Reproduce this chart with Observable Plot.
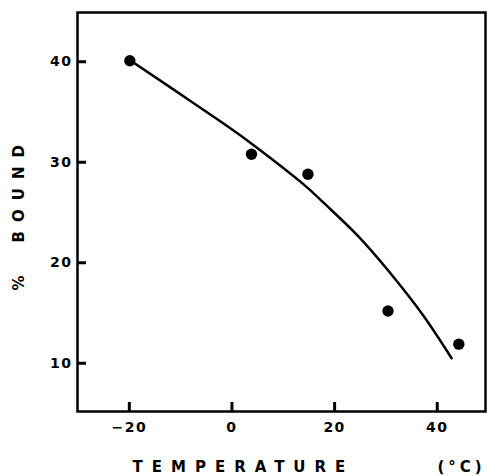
<!DOCTYPE html>
<html><head><meta charset="utf-8">
<script src="https://cdn.jsdelivr.net/npm/d3@7"></script>
<script src="https://cdn.jsdelivr.net/npm/@observablehq/plot@0.6"></script>
<style>
html,body{margin:0;padding:0;background:#fff;}
g[aria-label$="tick label"] text{letter-spacing:1.5px;}
</style>
</head><body><div id="chart"></div>
<script>
// measured points
const temperature = [-19.9, 3.8, 14.8, 30.4, 44.2];
const bound = [40.1, 30.8, 28.8, 15.2, 11.9];
// fitted curve
const fitTemperature = [-20, -11, -1.5, 5, 13.5, 18, 24.3, 30.8, 37.2, 42.8];
const fitBound = [40.2, 37.1, 33.8, 31.4, 28.0, 25.9, 22.8, 19.0, 14.8, 10.5];
// ticks and labels
const xTicks = [-20, 0, 20, 40];
const yTicks = [10, 20, 30, 40];
const xLabel = "TEMPERATURE";
const xUnit = "(°C)";
const yLabel = "%\u2003BOUND";

const points = temperature.map((t, i) => ({t, b: bound[i]}));
const fit = fitTemperature.map((t, i) => ({t, b: fitBound[i]}));

const chart = Plot.plot({
  width: 487, height: 476,
  marginLeft: 77, marginRight: 2, marginTop: 12, marginBottom: 65,
  style: {fontFamily: "'DejaVu Sans', sans-serif", fontWeight: "bold", fontSize: "14px", color: "#000", background: "#fff"},
  x: {domain: [-30.1, 49.4]},
  y: {domain: [5.2, 44.9]},
  marks: [
    Plot.frame({stroke: "#000", strokeWidth: 2.5}),
    Plot.axisX(xTicks, {tickSize: -9, tickPadding: 20, strokeWidth: 3, label: null, fill: "#000"}),
    Plot.axisY(yTicks, {tickSize: -9, tickPadding: 14, strokeWidth: 3, label: null, fill: "#000"}),
    Plot.line(fit, {x: "t", y: "b", curve: "natural", stroke: "#000", strokeWidth: 2.5}),
    Plot.dot(points, {x: "t", y: "b", r: 5.7, fill: "#000", stroke: "none"}),
    Plot.text([xLabel], {text: d => d, frameAnchor: "bottom-left", dx: 55, dy: 60, textAnchor: "start", fontSize: 15, fontWeight: "bold", fill: "#000"}),
    Plot.text([xUnit], {text: d => d, frameAnchor: "bottom-left", dx: 360, dy: 60, textAnchor: "start", fontSize: 15, fontWeight: "bold", fill: "#000"}),
    Plot.text([yLabel], {text: d => d, frameAnchor: "left", dx: -58, dy: 78.5, rotate: -90, textAnchor: "start", fontSize: 15, fontWeight: "bold", fill: "#000"})
  ]
});
const textGroups = d3.select(chart).selectAll('g[aria-label="text"]').nodes();
const spacings = ["9px", "4px", "9px"];
textGroups.forEach((g, i) => d3.select(g).selectAll("text").style("letter-spacing", spacings[i]));
document.getElementById("chart").append(chart);
</script>
</body></html>
